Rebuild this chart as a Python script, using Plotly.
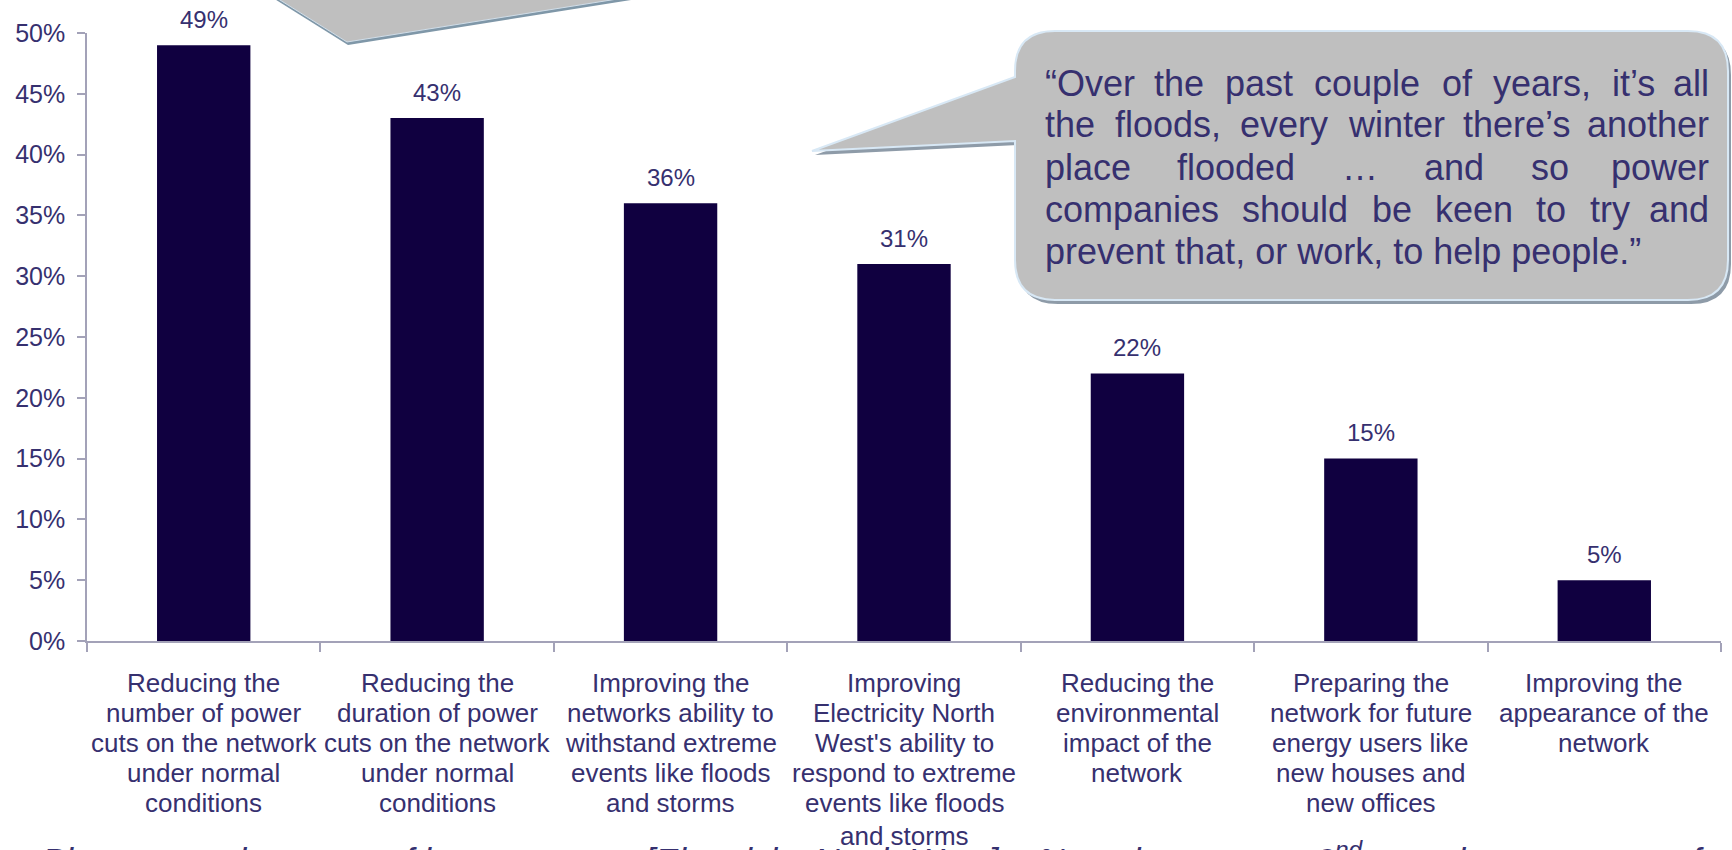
import plotly.graph_objects as go

# ---------------- data ----------------
categories = [
    "Reducing the<br>number of power<br>cuts on the network<br>under normal<br>conditions",
    "Reducing the<br>duration of power<br>cuts on the network<br>under normal<br>conditions",
    "Improving the<br>networks ability to<br>withstand extreme<br>events like floods<br>and storms",
    "Improving<br>Electricity North<br>West's ability to<br>respond to extreme<br>events like floods<br>and storms",
    "Reducing the<br>environmental<br>impact of the<br>network",
    "Preparing the<br>network for future<br>energy users like<br>new houses and<br>new offices",
    "Improving the<br>appearance of the<br>network",
]
values = [49, 43, 36, 31, 22, 15, 5]
y_ticks = [0, 5, 10, 15, 20, 25, 30, 35, 40, 45, 50]
quote_lines = [
    "\u201cOver the past couple of years, it\u2019s all",
    "the floods, every winter there\u2019s another",
    "place flooded \u2026 and so power",
    "companies should be keen to try and",
    "prevent that, or work, to help people.\u201d",
]
footnote = "Please rate the areas of importance to [Electricity North West] \u2013 % saying most or 2<sup>nd</sup> most important out of all"

# ---------------- style ----------------
W, H = 1732, 850
L, R, T, B = 87, 1721, 33, 641
FONT = "Liberation Sans, Arial, sans-serif"
TXT = "#36306f"
BAR = "#100040"
AXC = "#a3a2b8"


def px(x, y):
    return (x - L) / (R - L), (B - y) / (B - T)


ARIAL = {
    'a': 556, 'b': 556, 'c': 500, 'd': 556, 'e': 556, 'f': 278, 'g': 556, 'h': 556,
    'i': 222, 'j': 222, 'k': 500, 'l': 222, 'm': 833, 'n': 556, 'o': 556, 'p': 556,
    'q': 556, 'r': 333, 's': 500, 't': 278, 'u': 556, 'v': 500, 'w': 722, 'x': 500,
    'y': 500, 'z': 500, 'O': 722, ' ': 278, ',': 278, '.': 278, '\u201c': 333,
    '\u201d': 333, '\u2019': 222, '\u2026': 1000,
}


def tw(s, fs):
    return sum(ARIAL.get(c, 556) for c in s) * fs / 1000.0


fig = go.Figure()
fig.add_trace(go.Bar(x=categories, y=values, marker=dict(color=BAR, line=dict(width=0)),
                     width=0.4, hoverinfo="skip"))

annotations = []
# data labels
for c, v in zip(categories, values):
    annotations.append(dict(x=c, y=v, xref="x", yref="y", text=f"{v}%", showarrow=False,
                            yshift=26, yanchor="middle",
                            font=dict(family=FONT, size=24, color=TXT)))

# category labels (one annotation per line for tight line spacing)
LFS = 26
for c in categories:
    for k, line in enumerate(c.split("<br>")):
        yb = 692 + 29.8 * k + (4 if k == 5 else 0)
        annotations.append(dict(x=c, xref="x", y=px(0, yb - 0.33 * LFS)[1], yref="paper",
                                text=line, showarrow=False, yanchor="middle", xanchor="center",
                                font=dict(family=FONT, size=LFS, color=TXT)))

# callout text, justified
QFS = 36
qx0, qx1 = 1043, 1711
for k, line in enumerate(quote_lines):
    yc = px(0, 83 + 42 * k)[1]
    words = line.split(" ")
    if k == len(quote_lines) - 1:
        annotations.append(dict(x=px(qx0, 0)[0], y=yc, xref="paper", yref="paper", text=line,
                                showarrow=False, xanchor="left", yanchor="middle",
                                font=dict(family=FONT, size=QFS, color=TXT)))
        continue
    widths = [tw(w, QFS) for w in words]
    gap = ((qx1 - qx0) - sum(widths)) / (len(words) - 1)
    xcur = qx0
    for i, w in enumerate(words):
        if i == len(words) - 1:
            annotations.append(dict(x=px(qx1, 0)[0], y=yc, xref="paper", yref="paper", text=w,
                                    showarrow=False, xanchor="right", yanchor="middle",
                                    font=dict(family=FONT, size=QFS, color=TXT)))
        else:
            annotations.append(dict(x=px(xcur, 0)[0], y=yc, xref="paper", yref="paper", text=w,
                                    showarrow=False, xanchor="left", yanchor="middle",
                                    font=dict(family=FONT, size=QFS, color=TXT)))
        xcur += widths[i] + gap

# footnote (mostly cut off at bottom)
annotations.append(dict(x=px(40, 0)[0], y=px(0, 834)[1], xref="paper", yref="paper",
                        text=f"<i>{footnote}</i>", showarrow=False, xanchor="left", yanchor="top",
                        font=dict(family=FONT, size=35, color=TXT)))


def p(x, y):
    a, b = px(x, y)
    return f"{a:.5f},{b:.5f}"


def callout_path(dx=0, dy=0):
    x0, y0, x1, y1, r = 1015 + dx, 31 + dy, 1728 + dx, 300 + dy, 40
    return (f"M {p(x0 + r, y0)} L {p(x1 - r, y0)} Q {p(x1, y0)} {p(x1, y0 + r)} "
            f"L {p(x1, y1 - r)} Q {p(x1, y1)} {p(x1 - r, y1)} "
            f"L {p(x0 + r, y1)} Q {p(x0, y1)} {p(x0, y1 - r)} "
            f"L {p(x0, 141 + dy)} L {p(812 + dx, 151 + dy)} L {p(x0, 77 + dy)} "
            f"L {p(x0, y0 + r)} Q {p(x0, y0)} {p(x0 + r, y0)} Z")


def top_ptr(dx=0, dy=0):
    return f"M {p(264 + dx, -10 + dy)} L {p(347 + dx, 42 + dy)} L {p(674 + dx, -10 + dy)} Z"


shapes = [
    dict(type="path", xref="paper", yref="paper", path=callout_path(3, 4),
         fillcolor="#8e9ba8", line=dict(width=0), layer="above"),
    dict(type="path", xref="paper", yref="paper", path=callout_path(),
         fillcolor="#bfbfbf", line=dict(color="#d8e8f5", width=2), layer="above"),
    dict(type="path", xref="paper", yref="paper", path=top_ptr(1, 3),
         fillcolor="#7f97a8", line=dict(width=0), layer="above"),
    dict(type="path", xref="paper", yref="paper", path=top_ptr(),
         fillcolor="#bfbfbf", line=dict(color="#d0dde8", width=1), layer="above"),
]

fig.update_layout(
    width=W, height=H,
    margin=dict(l=L, r=W - R, t=T, b=H - B, pad=0),
    paper_bgcolor="white", plot_bgcolor="white",
    showlegend=False,
    bargap=0.6,
    font=dict(family=FONT, color=TXT),
    xaxis=dict(type="category", range=[-0.5, len(categories) - 0.5], showline=True,
               linecolor=AXC, linewidth=1.5, ticks="outside", tickson="boundaries",
               ticklen=9, tickcolor=AXC, tickwidth=1.5, showticklabels=False,
               showgrid=False, zeroline=False, fixedrange=True),
    yaxis=dict(range=[0, 50], tickvals=y_ticks, ticktext=[f"{t}%" for t in y_ticks],
               showline=True, linecolor=AXC, linewidth=1.5, ticks="outside", ticklen=8,
               tickcolor=AXC, tickwidth=1.5, showgrid=False, zeroline=False,
               tickfont=dict(family=FONT, size=25, color=TXT), ticklabelstandoff=7,
               fixedrange=True),
    annotations=annotations,
    shapes=shapes,
)

fig.write_html("out.html", config={"displayModeBar": False},
               post_script="document.body.style.margin='0px';")
